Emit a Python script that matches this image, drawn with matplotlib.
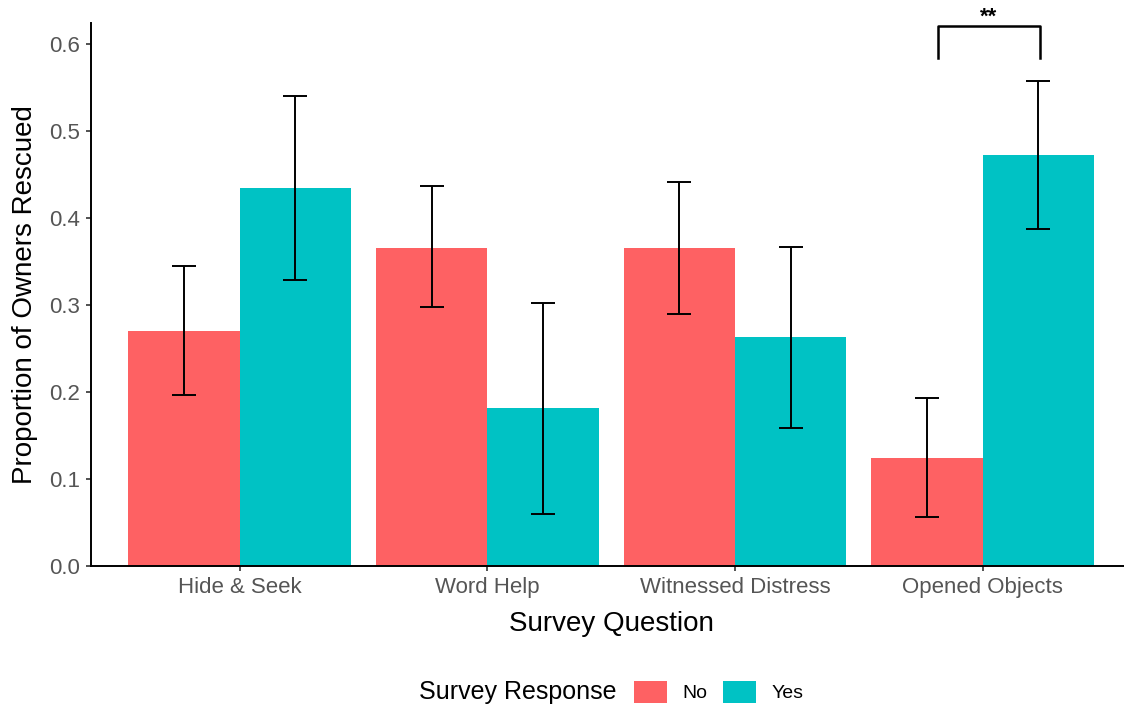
"""
Grouped bar chart: proportion of owners rescued by survey question,
split by survey response, with confidence intervals and a significance
bracket over the "Opened Objects" pair.

Output:
  - ./out.png
"""

import matplotlib.pyplot as plt
import numpy as np
from matplotlib.patches import Patch

plt.rcParams["font.family"] = ["Liberation Sans", "DejaVu Sans"]

QUESTIONS = ["Hide & Seek", "Word Help", "Witnessed Distress", "Opened Objects"]
RESPONSES = ["No", "Yes"]

# Proportions and interval bounds per response group
NO_MEAN = [0.270, 0.366, 0.366, 0.124]
NO_LOW = [0.197, 0.298, 0.290, 0.057]
NO_HIGH = [0.345, 0.437, 0.442, 0.194]

YES_MEAN = [0.435, 0.182, 0.263, 0.472]
YES_LOW = [0.329, 0.060, 0.159, 0.388]
YES_HIGH = [0.540, 0.303, 0.367, 0.557]

# Significance bracket over the last group
BRACKET_X = (2.82, 3.23)
BRACKET_Y = (0.584, 0.620)
BRACKET_LABEL = "**"

COLORS = {"No": "#FE6163", "Yes": "#00C2C4"}
TICK_GREY = "#555555"
BAR_W = 0.45


def main():
    fig = plt.figure(figsize=(11.24, 7.08), dpi=100)
    ax = fig.add_axes([0.0810, 0.1999, 0.9255, 0.7676])

    x = np.arange(len(QUESTIONS))
    groups = [
        ("No", -BAR_W / 2, NO_MEAN, NO_LOW, NO_HIGH),
        ("Yes", BAR_W / 2, YES_MEAN, YES_LOW, YES_HIGH),
    ]
    for name, off, mean, low, high in groups:
        mean = np.array(mean)
        yerr = [mean - np.array(low), np.array(high) - mean]
        ax.bar(x + off, mean, width=BAR_W, color=COLORS[name], linewidth=0, zorder=2)
        ax.errorbar(x + off, mean, yerr=yerr, fmt="none", ecolor="black",
                    elinewidth=1.4, capsize=8.6, capthick=1.4, zorder=3)

    # significance bracket
    bx0, bx1 = BRACKET_X
    by0, by1 = BRACKET_Y
    ax.plot([bx0, bx0, bx1, bx1], [by0, by1, by1, by0], color="black",
            lw=1.8, clip_on=False, zorder=4)
    ax.text((bx0 + bx1) / 2, by1 + 0.011, BRACKET_LABEL, ha="center",
            va="center", fontsize=16, fontweight="bold", clip_on=False)

    ax.set_xlim(-0.6, 3.6)
    ax.set_ylim(0, 0.624)
    ax.set_xticks(x)
    ax.set_xticklabels(QUESTIONS)
    ax.set_yticks(np.arange(0, 0.61, 0.1))
    ax.set_yticklabels([f"{v:.1f}" for v in np.arange(0, 0.61, 0.1)])

    for side in ("top", "right"):
        ax.spines[side].set_visible(False)
    for side in ("left", "bottom"):
        ax.spines[side].set_linewidth(1.4)
        ax.spines[side].set_color("black")

    ax.tick_params(axis="both", length=3.6, width=1.2, color="#333333",
                   labelsize=16, labelcolor=TICK_GREY, pad=4)
    ax.set_xlabel("Survey Question", fontsize=20, labelpad=9)
    ax.set_ylabel("Proportion of Owners Rescued", fontsize=20, labelpad=8)

    # legend below the plot, title to the left of the keys
    fig.text(419 / 1124, 1 - 692 / 708, "Survey Response", fontsize=18,
             ha="left", va="center")
    handles = [Patch(facecolor=COLORS[r], edgecolor="none", label=r) for r in RESPONSES]
    fig.legend(handles=handles, loc="center left",
               bbox_to_anchor=(634 / 1124, 1 - 692 / 708), ncol=2,
               frameon=False, fontsize=14, handlelength=1.7, handleheight=1.4,
               handletextpad=0.8, columnspacing=0.8, borderpad=0,
               borderaxespad=0)

    fig.savefig("out.png", dpi=100)
    plt.close(fig)


if __name__ == "__main__":
    main()
